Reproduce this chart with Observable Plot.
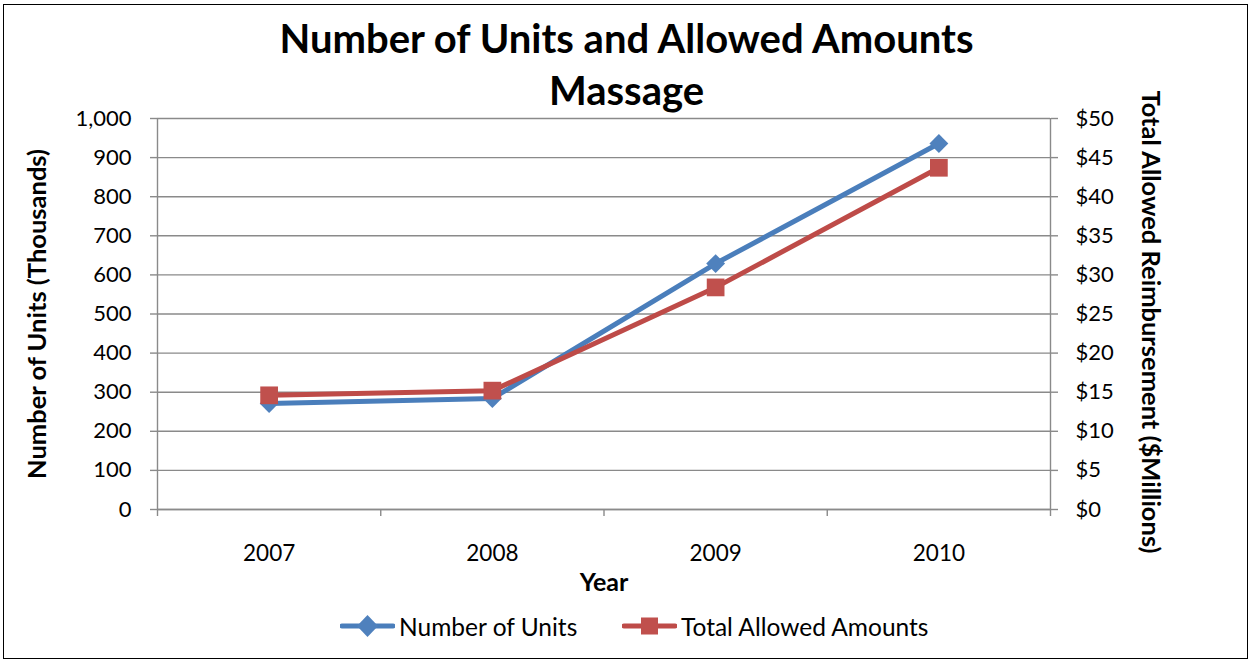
<!DOCTYPE html>
<html><head><meta charset="utf-8">
<script src="https://cdn.jsdelivr.net/npm/d3@7"></script>
<script src="https://cdn.jsdelivr.net/npm/@observablehq/plot@0.6"></script>
<style>
body{margin:0;background:#fff;font-family:Lato,"Open Sans",sans-serif;color:#000;}
#wrap{position:relative;width:1253px;height:664px;overflow:hidden;}
#frame{position:absolute;left:3px;top:4px;width:1245px;height:655px;border:1px solid #000;pointer-events:none;box-sizing:border-box;}
#title{height:96px;text-align:center;font-weight:bold;font-size:40px;line-height:52px;padding-top:12px;box-sizing:border-box;overflow:visible;white-space:nowrap;}
#chart svg{display:block;overflow:visible;}
.leg{position:absolute;top:612px;height:28px;display:flex;align-items:center;font-size:24.5px;}
.leg svg{display:block;margin-right:4px;}
</style></head>
<body>
<div id="wrap">
  <div id="title">Number of Units and Allowed Amounts<br>Massage</div>
  <div id="chart"></div>
  <div id="legend"></div>
  <div id="frame"></div>
</div>
<script>
const years = [2007, 2008, 2009, 2010];
const units = [271, 284, 629, 936];          // thousands
const amounts = [14.6, 15.2, 28.4, 43.7];    // $ millions
const unitTicks = [0,100,200,300,400,500,600,700,800,900,1000];
const boundaries = [2006.5, 2007.5, 2008.5, 2009.5, 2010.5];
const seriesNames = ["Number of Units", "Total Allowed Amounts"];
const blue = "#4A7EBB", blueFill = "#4F81BD";
const red = "#BE4B48", redFill = "#C0504D";
const grid = "#8A8A8A";
const ratio = 20; // 1000 thousand units <-> $50M

const unitData = years.map((y, i) => ({year: y, v: units[i]}));
const amtData = years.map((y, i) => ({year: y, v: amounts[i]}));

const plot = Plot.plot({
  width: 1253,
  height: 504,
  marginTop: 22,
  marginBottom: 91,
  marginLeft: 157,
  marginRight: 203,
  style: {fontFamily: "Lato, 'Open Sans', sans-serif", fontSize: "22px", color: "#000", background: "transparent"},
  x: {type: "linear", domain: [2006.5, 2010.5], axis: null},
  y: {domain: [0, 1000], axis: null},
  marks: [
    Plot.gridY(unitTicks, {stroke: grid, strokeOpacity: 1, strokeWidth: 1.4}),
    Plot.ruleX([2006.5, 2010.5], {stroke: grid, strokeWidth: 1.4}),
    Plot.ruleY([0], {stroke: grid, strokeWidth: 1.4}),
    Plot.axisX(boundaries, {tickSize: 7, tickFormat: () => "", stroke: grid, strokeWidth: 1.4, label: null}),
    Plot.axisX(years, {tickSize: 0, tickPadding: 36, tickFormat: d => String(d), fontSize: 22.5, label: null}),
    Plot.axisY(unitTicks, {anchor: "left", tickSize: 7, tickPadding: 19, tickFormat: d3.format(","), stroke: grid, strokeWidth: 1.4, label: null, fontSize: 22}),
    Plot.axisY(unitTicks, {anchor: "right", tickSize: 7, tickPadding: 18, tickFormat: d => "$" + (d / ratio), stroke: grid, strokeWidth: 1.4, label: null, fontSize: 22}),
    Plot.text(["Number of Units (Thousands)"], {frameAnchor: "left", textAnchor: "middle", lineAnchor: "middle", rotate: -90, dx: -120, fontWeight: "bold", fontSize: 25.5}),
    Plot.text(["Total Allowed Reimbursement ($Millions)"], {frameAnchor: "right", textAnchor: "middle", lineAnchor: "middle", rotate: 90, dx: 100, dy: 8, fontWeight: "bold", fontSize: 25.5}),
    Plot.text(["Year"], {frameAnchor: "bottom", lineAnchor: "middle", dy: 73, fontWeight: "bold", fontSize: 25}),
    Plot.line(unitData, {x: "year", y: "v", stroke: blue, strokeWidth: 5, strokeLinejoin: "round", strokeLinecap: "round"}),
    Plot.dot(unitData, {x: "year", y: "v", symbol: "diamond2", r: 8.5, fill: blueFill, stroke: "none"}),
    Plot.line(amtData, {x: "year", y: d => d.v * ratio, stroke: red, strokeWidth: 5, strokeLinejoin: "round", strokeLinecap: "round"}),
    Plot.dot(amtData, {x: "year", y: d => d.v * ratio, symbol: "square", r: 10, fill: redFill, stroke: "none"})
  ]
});
document.getElementById("chart").appendChild(plot);

// legend
const legend = document.getElementById("legend");
const legItems = [
  {name: seriesNames[0], color: blue, fill: blueFill, left: 340, shape: "diamond"},
  {name: seriesNames[1], color: red, fill: redFill, left: 622, shape: "square"}
];
legItems.forEach(it => {
  const div = document.createElement("div");
  div.className = "leg";
  div.style.left = it.left + "px";
  const mk = it.shape === "diamond"
    ? `<path d="M27.5 3 L38 14 L27.5 25 L17 14 Z" fill="${it.fill}"/>`
    : `<rect x="19" y="5.5" width="17" height="17" fill="${it.fill}"/>`;
  div.innerHTML = `<svg width="55" height="28"><line x1="2" y1="14" x2="53" y2="14" stroke="${it.color}" stroke-width="5" stroke-linecap="round"/>${mk}</svg><span>${it.name}</span>`;
  legend.appendChild(div);
});
</script>
</body></html>
